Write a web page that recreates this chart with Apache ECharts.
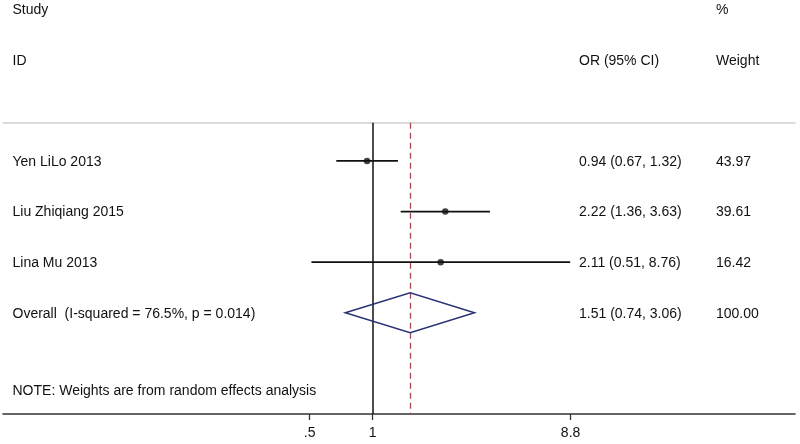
<!DOCTYPE html>
<html>
<head>
<meta charset="utf-8">
<script src="https://cdn.jsdelivr.net/npm/echarts@6/dist/echarts.min.js"></script>
<style>
html,body{margin:0;padding:0;background:#fff;}
#chart{width:800px;height:444px;}
</style>
</head>
<body>
<div id="chart"></div>
<script>
// ---- data ----
const studies = ['Yen LiLo 2013', 'Liu Zhiqiang 2015', 'Lina Mu 2013'];
const orValues = [0.94, 2.22, 2.11];
const ciLower = [0.67, 1.36, 0.51];
const ciUpper = [1.32, 3.63, 8.76];
const weights = ['43.97', '39.61', '16.42'];
const overallLabel = 'Overall  (I-squared = 76.5%, p = 0.014)';
const overallOR = 1.51;
const overallLower = 0.74;
const overallUpper = 3.06;
const overallWeight = '100.00';
const tickValues = [0.5, 1, 8.8];
const tickLabels = ['.5', '1', '8.8'];
const headerLeft = ['Study', 'ID'];
const headerMid = ['', 'OR (95% CI)'];
const headerRight = ['%', 'Weight'];
const note = 'NOTE: Weights are from random effects analysis';

const FONT = '"Liberation Sans", Arial, sans-serif';
const fmt = v => v.toFixed(2);
const ln = Math.log;

const chart = echarts.init(document.getElementById('chart'), null, {renderer: 'canvas'});

const ciData = studies.map((s, i) => [ln(ciLower[i]), ln(ciUpper[i]), i]);
const pointData = studies.map((s, i) => [ln(orValues[i]), i]);
const overallRow = studies.length;

const xMin = -4.063, xMax = 4.641;

const option = {
  animation: false,
  backgroundColor: '#fff',
  grid: {left: 3, right: 5, top: 122.7, bottom: 30, containLabel: false},
  xAxis: [{
    type: 'value', min: xMin, max: xMax, position: 'bottom',
    axisLine: {show: true, onZero: false, lineStyle: {color: '#333', width: 1.6}},
    axisTick: {show: true, inside: false, length: 6, customValues: tickValues.map(v => ln(v)), lineStyle: {color: '#333', width: 1.3}},
    axisLabel: {show: true, margin: 12, customValues: tickValues.map(v => ln(v)),
      formatter: function (val) {
        let best = 0, d = Infinity;
        tickValues.forEach((t, k) => { const dd = Math.abs(ln(t) - val); if (dd < d) { d = dd; best = k; } });
        return tickLabels[best];
      },
      color: '#111', fontSize: 14, fontFamily: FONT},
    splitLine: {show: false}
  }, {
    type: 'value', min: xMin, max: xMax, position: 'top',
    axisLine: {show: true, onZero: false, lineStyle: {color: '#cfcfcf', width: 1.5}},
    axisTick: {show: false}, axisLabel: {show: false}, splitLine: {show: false}
  }],
  yAxis: {
    type: 'value', min: -0.756, max: 5, inverse: true, show: false
  },
  series: [
    {
      type: 'custom',
      data: ciData,
      renderItem: function (params, api) {
        const p1 = api.coord([api.value(0), api.value(2)]);
        const p2 = api.coord([api.value(1), api.value(2)]);
        return {type: 'line', shape: {x1: p1[0], y1: p1[1], x2: p2[0], y2: p2[1]},
          style: {stroke: '#111', lineWidth: 1.8}};
      },
      z: 3
    },
    {
      type: 'scatter', data: pointData, symbol: 'circle', symbolSize: 6.5,
      itemStyle: {color: '#111'}, z: 4,
      markLine: {
        silent: true, symbol: ['none', 'none'], label: {show: false},
        data: [
          {xAxis: 0, lineStyle: {color: '#111', width: 1.5, type: 'solid'}},
          {xAxis: ln(overallOR), lineStyle: {color: '#a9474f', width: 1.3, type: [6, 4]}}
        ]
      }
    },
    {
      type: 'custom',
      data: [[ln(overallLower), ln(overallOR), ln(overallUpper), overallRow]],
      renderItem: function (params, api) {
        const l = api.coord([api.value(0), api.value(3)]);
        const c = api.coord([api.value(1), api.value(3)]);
        const r = api.coord([api.value(2), api.value(3)]);
        const h = 20;
        return {type: 'polygon', shape: {points: [[l[0], l[1]], [c[0], c[1] - h], [r[0], r[1]], [c[0], c[1] + h]]},
          style: {fill: 'none', stroke: '#2a3275', lineWidth: 1.5}};
      },
      z: 5
    }
  ]
};
chart.setOption(option);

// ---- text columns ----
const colLeft = 12.5, colMid = 579, colRight = 716;
function rowY(r) { return chart.convertToPixel({yAxisIndex: 0}, r) + 1; }
const texts = [];
function addText(x, r, str) {
  if (!str) return;
  texts.push({type: 'text', x: x, y: rowY(r), style: {text: str, fill: '#111', font: '14px ' + FONT, textVerticalAlign: 'middle', textAlign: 'left'}});
}
headerLeft.forEach((t, k) => addText(colLeft, k - 3, t));
headerMid.forEach((t, k) => addText(colMid, k - 3, t));
headerRight.forEach((t, k) => addText(colRight, k - 3, t));
studies.forEach((s, i) => {
  addText(colLeft, i, s);
  addText(colMid, i, fmt(orValues[i]) + ' (' + fmt(ciLower[i]) + ', ' + fmt(ciUpper[i]) + ')');
  addText(colRight, i, weights[i]);
});
addText(colLeft, overallRow, overallLabel);
addText(colMid, overallRow, fmt(overallOR) + ' (' + fmt(overallLower) + ', ' + fmt(overallUpper) + ')');
addText(colRight, overallRow, overallWeight);
addText(colLeft, 4.53, note);
chart.setOption({graphic: {elements: texts}});
</script>
</body>
</html>
